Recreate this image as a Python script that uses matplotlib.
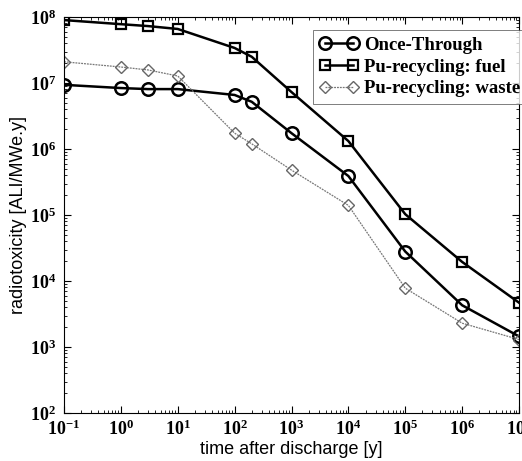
import numpy as np
import matplotlib
matplotlib.use("Agg")
import matplotlib.pyplot as plt
from matplotlib.ticker import LogLocator, NullFormatter, FuncFormatter

# ── Radiotoxicity of spent fuel vs. time after discharge ─────────────────────

time_y = [0.1, 1, 3, 10, 100, 200, 1e3, 1e4, 1e5, 1e6, 1e7]

once_through = [9.4e6, 8.4e6, 8.1e6, 8.1e6, 6.6e6, 5.2e6,
                1.74e6, 3.9e5, 2.8e4, 4.3e3, 1.45e3]
pu_fuel      = [9.0e7, 7.8e7, 7.3e7, 6.6e7, 3.4e7, 2.5e7,
                7.3e6, 1.32e6, 1.03e5, 1.95e4, 4.7e3]
pu_waste     = [2.1e7, 1.75e7, 1.58e7, 1.28e7, 1.74e6, 1.2e6,
                4.8e5, 1.4e5, 7.8e3, 2.3e3, 1.3e3]

labels = ["Once-Through", "Pu-recycling: fuel", "Pu-recycling: waste"]

plt.rcParams["mathtext.fontset"] = "custom"
plt.rcParams["mathtext.rm"] = "Liberation Serif:bold"
plt.rcParams["mathtext.bf"] = "Liberation Serif:bold"
plt.rcParams["mathtext.it"] = "Liberation Serif:bold:italic"

serif = ["Liberation Serif", "DejaVu Serif"]
sans = ["Liberation Sans", "DejaVu Sans"]

fig = plt.figure(figsize=(5.22, 4.61), dpi=100)
ax = fig.add_axes([0.1226, 0.104, 0.8717, 0.859])

ax.plot(time_y, once_through, color="black", linewidth=1.8,
        marker="o", markersize=9, markerfacecolor="none",
        markeredgewidth=1.8, label=labels[0])
ax.plot(time_y, pu_fuel, color="black", linewidth=1.8,
        marker="s", markersize=7.5, markerfacecolor="none",
        markeredgewidth=1.6, label=labels[1])
ax.plot(time_y, pu_waste, color="#777777", linewidth=0.9, linestyle=(0, (1.5, 0.8)),
        marker="D", markersize=6.5, markerfacecolor="none",
        markeredgecolor="#666666", markeredgewidth=1.0, label=labels[2])

ax.set_xscale("log")
ax.set_yscale("log")
ax.set_xlim(1e-1, 1e7)
ax.set_ylim(1e2, 1e8)

decade_fmt = FuncFormatter(lambda v, pos: r"$\mathbf{10^{%d}}$" % round(np.log10(v)))
ax.xaxis.set_major_locator(LogLocator(base=10, numticks=20))
ax.yaxis.set_major_locator(LogLocator(base=10, numticks=20))
ax.xaxis.set_major_formatter(decade_fmt)
ax.yaxis.set_major_formatter(decade_fmt)
ax.xaxis.set_minor_locator(LogLocator(base=10, subs=np.arange(2, 10), numticks=20))
ax.yaxis.set_minor_locator(LogLocator(base=10, subs=np.arange(2, 10), numticks=20))
ax.xaxis.set_minor_formatter(NullFormatter())
ax.yaxis.set_minor_formatter(NullFormatter())

ax.tick_params(which="both", direction="in", top=True, right=True, labelsize=13)
ax.tick_params(which="major", length=5, width=0.8)
ax.tick_params(axis="x", which="major", pad=5)
ax.tick_params(axis="y", which="major", pad=6)
ax.tick_params(which="minor", length=2.5, width=0.6)

for sp in ax.spines.values():
    sp.set_linewidth(0.8)

ax.set_xlabel("time after discharge [y]", fontsize=13, family=sans, labelpad=1)
ax.set_ylabel("radiotoxicity [ALI/MWe.y]", fontsize=13, family=sans, labelpad=2)

leg = ax.legend(loc="upper left", bbox_to_anchor=(0.547, 0.967), numpoints=2,
                prop={"family": serif, "weight": "bold", "size": 13.5},
                frameon=True, fancybox=False, edgecolor="#444444",
                handlelength=2.1, handletextpad=0.3, labelspacing=0.25,
                borderpad=0.35, borderaxespad=0.0)
leg.get_frame().set_linewidth(0.6)

fig.savefig("out.png", dpi=100)
